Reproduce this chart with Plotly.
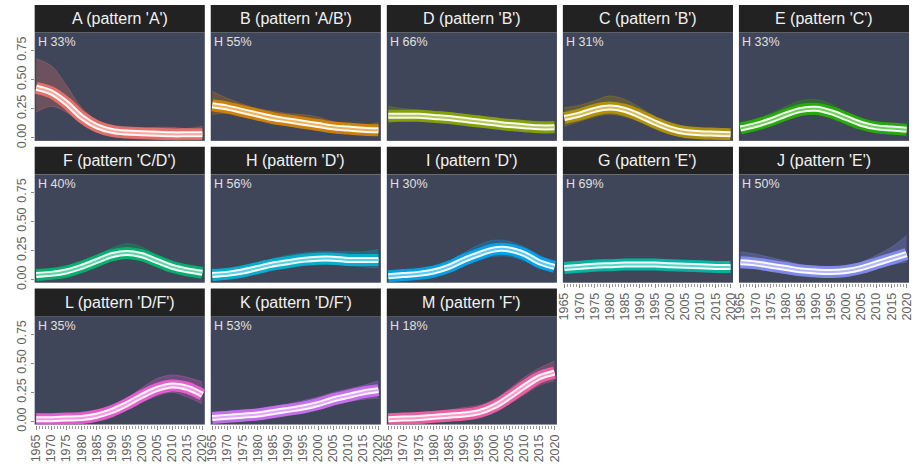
import plotly.graph_objects as go

W, H = 917, 468

years = [1965, 1970, 1975, 1980, 1985, 1990, 1995, 2000, 2005, 2010, 2015, 2020]

panel_ids = ["A", "B", "D", "C", "E", "F", "H", "I", "G", "J", "L", "K", "M"]
titles = ["A (pattern 'A')", "B (pattern 'A/B')", "D (pattern 'B')", "C (pattern 'B')",
          "E (pattern 'C')", "F (pattern 'C/D')", "H (pattern 'D')", "I (pattern 'D')",
          "G (pattern 'E')", "J (pattern 'E')", "L (pattern 'D/F')", "K (pattern 'D/F')",
          "M (pattern 'F')"]
h_share = [33, 55, 66, 31, 33, 40, 56, 30, 69, 50, 35, 53, 18]
colors = ["#F8766D", "#E18A00", "#8CAB00", "#BE9C00", "#24B700", "#00BE70", "#00BBDA",
          "#00ACFC", "#00C1AB", "#8B93FF", "#F962DD", "#D575FE", "#FF65AC"]

mean_A = [0.43, 0.39, 0.30, 0.18, 0.10, 0.06, 0.045, 0.04, 0.035, 0.03, 0.03, 0.03]
upper_A = [0.68, 0.62, 0.45, 0.26, 0.15, 0.10, 0.08, 0.08, 0.09, 0.09, 0.08, 0.10]
lower_A = [0.22, 0.27, 0.22, 0.13, 0.06, 0.03, 0.02, 0.015, 0.01, 0.01, 0.01, 0.01]

mean_B = [0.28, 0.26, 0.23, 0.20, 0.17, 0.15, 0.13, 0.11, 0.09, 0.08, 0.07, 0.065]
upper_B = [0.40, 0.34, 0.29, 0.25, 0.23, 0.21, 0.20, 0.18, 0.14, 0.12, 0.11, 0.13]
lower_B = [0.20, 0.21, 0.19, 0.16, 0.13, 0.11, 0.09, 0.07, 0.06, 0.05, 0.04, 0.04]

mean_D = [0.19, 0.19, 0.19, 0.18, 0.17, 0.155, 0.14, 0.125, 0.11, 0.10, 0.09, 0.09]
upper_D = [0.27, 0.25, 0.24, 0.23, 0.22, 0.20, 0.19, 0.17, 0.16, 0.15, 0.14, 0.14]
lower_D = [0.13, 0.15, 0.15, 0.14, 0.13, 0.12, 0.10, 0.09, 0.08, 0.07, 0.06, 0.05]

mean_C = [0.17, 0.20, 0.24, 0.26, 0.24, 0.19, 0.13, 0.08, 0.05, 0.04, 0.035, 0.03]
upper_C = [0.26, 0.28, 0.32, 0.36, 0.33, 0.26, 0.18, 0.12, 0.09, 0.07, 0.06, 0.06]
lower_C = [0.10, 0.14, 0.18, 0.20, 0.18, 0.14, 0.09, 0.05, 0.03, 0.02, 0.02, 0.015]

mean_E = [0.08, 0.11, 0.15, 0.20, 0.24, 0.25, 0.22, 0.17, 0.12, 0.09, 0.08, 0.07]
upper_E = [0.13, 0.16, 0.21, 0.27, 0.32, 0.33, 0.29, 0.22, 0.16, 0.13, 0.11, 0.11]
lower_E = [0.05, 0.07, 0.11, 0.15, 0.19, 0.20, 0.17, 0.13, 0.09, 0.06, 0.05, 0.04]

mean_F = [0.04, 0.05, 0.07, 0.11, 0.16, 0.21, 0.23, 0.21, 0.16, 0.11, 0.08, 0.06]
upper_F = [0.08, 0.09, 0.11, 0.15, 0.21, 0.27, 0.31, 0.28, 0.21, 0.15, 0.11, 0.09]
lower_F = [0.02, 0.03, 0.04, 0.07, 0.12, 0.16, 0.18, 0.16, 0.12, 0.08, 0.05, 0.04]

mean_H = [0.04, 0.05, 0.07, 0.10, 0.13, 0.15, 0.17, 0.18, 0.18, 0.17, 0.17, 0.17]
upper_H = [0.08, 0.09, 0.12, 0.15, 0.18, 0.21, 0.23, 0.24, 0.24, 0.24, 0.24, 0.26]
lower_H = [0.02, 0.03, 0.04, 0.06, 0.09, 0.11, 0.12, 0.13, 0.13, 0.12, 0.11, 0.10]

mean_I = [0.03, 0.04, 0.05, 0.07, 0.11, 0.17, 0.22, 0.26, 0.26, 0.22, 0.15, 0.11]
upper_I = [0.06, 0.07, 0.09, 0.11, 0.16, 0.23, 0.30, 0.34, 0.33, 0.28, 0.21, 0.16]
lower_I = [0.01, 0.02, 0.03, 0.04, 0.07, 0.12, 0.17, 0.20, 0.20, 0.16, 0.11, 0.08]

mean_G = [0.10, 0.11, 0.12, 0.125, 0.13, 0.13, 0.13, 0.125, 0.12, 0.115, 0.11, 0.11]
upper_G = [0.15, 0.16, 0.17, 0.17, 0.17, 0.17, 0.17, 0.17, 0.16, 0.16, 0.15, 0.16]
lower_G = [0.06, 0.07, 0.08, 0.09, 0.09, 0.09, 0.09, 0.09, 0.09, 0.08, 0.08, 0.07]

mean_J = [0.15, 0.14, 0.12, 0.10, 0.08, 0.07, 0.065, 0.075, 0.10, 0.14, 0.18, 0.22]
upper_J = [0.24, 0.22, 0.19, 0.16, 0.13, 0.11, 0.10, 0.11, 0.15, 0.21, 0.28, 0.38]
lower_J = [0.10, 0.10, 0.08, 0.07, 0.05, 0.04, 0.04, 0.05, 0.07, 0.10, 0.13, 0.15]

mean_L = [0.02, 0.02, 0.025, 0.03, 0.05, 0.09, 0.15, 0.22, 0.28, 0.31, 0.29, 0.23]
upper_L = [0.07, 0.06, 0.06, 0.06, 0.08, 0.13, 0.20, 0.29, 0.37, 0.40, 0.38, 0.34]
lower_L = [0.005, 0.005, 0.01, 0.015, 0.03, 0.06, 0.11, 0.17, 0.22, 0.25, 0.21, 0.15]

mean_K = [0.03, 0.04, 0.05, 0.06, 0.08, 0.10, 0.12, 0.15, 0.19, 0.22, 0.25, 0.27]
upper_K = [0.08, 0.09, 0.10, 0.11, 0.13, 0.15, 0.18, 0.21, 0.25, 0.28, 0.31, 0.35]
lower_K = [0.01, 0.015, 0.02, 0.03, 0.04, 0.06, 0.08, 0.10, 0.14, 0.17, 0.19, 0.20]

mean_M = [0.02, 0.025, 0.03, 0.04, 0.05, 0.06, 0.08, 0.13, 0.21, 0.30, 0.38, 0.42]
upper_M = [0.06, 0.07, 0.08, 0.08, 0.10, 0.12, 0.14, 0.19, 0.28, 0.38, 0.46, 0.52]
lower_M = [0.005, 0.01, 0.015, 0.02, 0.03, 0.04, 0.05, 0.09, 0.15, 0.23, 0.31, 0.35]

means = [mean_A, mean_B, mean_D, mean_C, mean_E, mean_F, mean_H, mean_I, mean_G, mean_J, mean_L, mean_K, mean_M]
uppers = [upper_A, upper_B, upper_D, upper_C, upper_E, upper_F, upper_H, upper_I, upper_G, upper_J, upper_L, upper_K, upper_M]
lowers = [lower_A, lower_B, lower_D, lower_C, lower_E, lower_F, lower_H, lower_I, lower_G, lower_J, lower_L, lower_K, lower_M]

y_ticks = [0.0, 0.25, 0.5, 0.75]
x_ticks = list(range(1965, 2021, 5))

# layout geometry (pixels)
col_left = [30, 208, 386, 564, 742]
panel_w = 172
row_top = [5, 149, 293]
strip_h = 28
plot_h = 110


def rgba(hexc, a):
    hexc = hexc.lstrip("#")
    r, g, b = int(hexc[0:2], 16), int(hexc[2:4], 16), int(hexc[4:6], 16)
    return f"rgba({r},{g},{b},{a})"


def lighten(hexc, f):
    hexc = hexc.lstrip("#")
    r, g, b = int(hexc[0:2], 16), int(hexc[2:4], 16), int(hexc[4:6], 16)
    r = int(r + (255 - r) * f); g = int(g + (255 - g) * f); b = int(b + (255 - b) * f)
    return f"rgb({r},{g},{b})"


fig = go.Figure()
layout_axes = {}
shapes = []
annotations = []
tickfont = dict(family="Liberation Sans, Arial, sans-serif", size=12.5, color="#606060")

for i, pid in enumerate(panel_ids):
    r, c = divmod(i, 5)
    n = i + 1
    xa = "x" if n == 1 else f"x{n}"
    ya = "y" if n == 1 else f"y{n}"
    x0 = col_left[c]
    x1 = x0 + panel_w
    ytop = row_top[r] + strip_h
    ybot = ytop + plot_h
    col = colors[i]

    # spread band of bootstrap curves
    fig.add_trace(go.Scatter(x=years, y=lowers[i], mode="lines", line=dict(width=0.8, shape="spline", color=rgba(col, 0.3)),
                             hoverinfo="skip", showlegend=False, xaxis=xa, yaxis=ya))
    fig.add_trace(go.Scatter(x=years, y=uppers[i], mode="lines", line=dict(width=0.8, shape="spline", color=rgba(col, 0.35)),
                             fill="tonexty", fillcolor=rgba(col, 0.25),
                             hoverinfo="skip", showlegend=False, xaxis=xa, yaxis=ya))
    # main curve: colored halo, white, colored center
    fig.add_trace(go.Scatter(x=years, y=means[i], mode="lines", line=dict(width=12, shape="spline", color=rgba(col, 0.85)),
                             showlegend=False, xaxis=xa, yaxis=ya))
    fig.add_trace(go.Scatter(x=years, y=means[i], mode="lines", line=dict(width=6, shape="spline", color="rgba(255,255,255,0.95)"),
                             showlegend=False, xaxis=xa, yaxis=ya))
    fig.add_trace(go.Scatter(x=years, y=means[i], mode="lines", line=dict(width=2, shape="spline", color=lighten(col, 0.35)),
                             showlegend=False, xaxis=xa, yaxis=ya))

    bottom_label = (r == 2) or (r == 1 and c >= 3)
    left_label = (c == 0)

    layout_axes["xaxis" if n == 1 else f"xaxis{n}"] = dict(
        domain=[x0 / W, x1 / W], anchor=ya, range=[1964.5, 2020.8],
        showgrid=False, zeroline=False, showline=False,
        tickmode="array", tickvals=x_ticks, ticktext=[str(t) for t in x_ticks],
        showticklabels=bottom_label, ticks="outside" if bottom_label else "",
        ticklen=4, tickwidth=1, tickcolor="#8a8a8a", tickangle=-90, tickfont=tickfont,
        minor=dict(dtick=1, tick0=1965, ticks="outside" if bottom_label else "", ticklen=3,
                   tickcolor="#9a9a9a", tickwidth=1, showgrid=False),
        fixedrange=True,
    )
    layout_axes["yaxis" if n == 1 else f"yaxis{n}"] = dict(
        domain=[1 - ybot / H, 1 - ytop / H], anchor=xa, range=[-0.026, 0.905],
        showgrid=False, zeroline=False, showline=False,
        tickmode="array", tickvals=y_ticks, ticktext=[f"{v:.2f}" for v in y_ticks],
        showticklabels=left_label, ticks="outside" if left_label else "",
        ticklen=3, tickwidth=1, tickcolor="#8a8a8a", tickangle=-90, tickfont=tickfont,
        fixedrange=True,
    )

    # strip header
    shapes.append(dict(type="rect", xref="paper", yref="paper",
                       x0=x0 / W, x1=x1 / W, y0=1 - ytop / H, y1=1 - row_top[r] / H,
                       fillcolor="#222222", line=dict(width=0), layer="above"))
    annotations.append(dict(xref="paper", yref="paper", x=(x0 + x1) / 2 / W, y=1 - (row_top[r] + strip_h / 2) / H,
                            text=titles[i], showarrow=False, xanchor="center", yanchor="middle",
                            font=dict(family="Liberation Sans, Arial, sans-serif", size=16, color="#f2f2f2")))
    annotations.append(dict(xref="paper", yref="paper", x=(x0 + 1) / W, y=1 - (ytop + 1) / H,
                            text=f"H {h_share[i]}%", showarrow=False, xanchor="left", yanchor="top",
                            font=dict(family="Liberation Sans, Arial, sans-serif", size=12.5, color="#e0e0e0")))

fig.update_layout(
    width=W, height=H, margin=dict(l=0, r=0, t=0, b=0),
    paper_bgcolor="white", plot_bgcolor="#3f4659",
    shapes=shapes, annotations=annotations, showlegend=False,
    **layout_axes,
)

fig.write_html("out.html", config={"displayModeBar": False},
               post_script="document.body.style.margin='0';document.body.style.overflow='hidden';")
